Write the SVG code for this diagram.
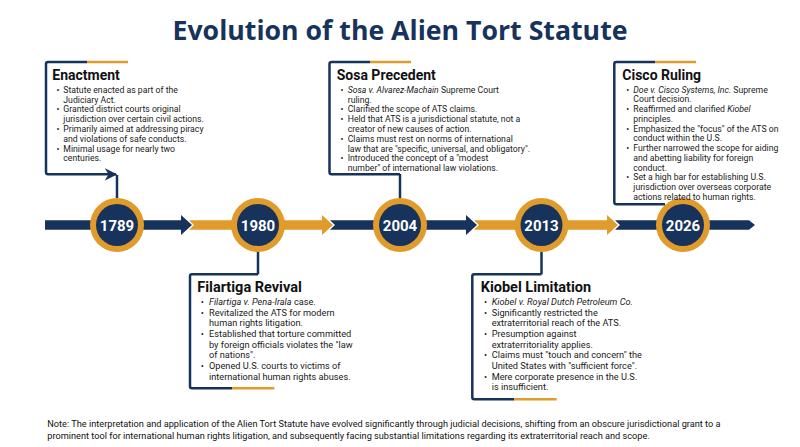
<svg xmlns="http://www.w3.org/2000/svg" width="800" height="447" viewBox="0 0 800 447">
<defs>
<style>
.navy{fill:#17325B}
.orange{fill:#E09B2D}
.ln{fill:none;stroke:#17325B;stroke-width:2.5;stroke-linejoin:round;stroke-linecap:butt}
.lo{fill:none;stroke:#E09B2D;stroke-width:2.5}
.ttl{font-family:Roboto,"Liberation Sans",sans-serif;font-weight:700;font-size:14px;fill:#111}
.ttlb{font-family:Roboto,"Liberation Sans",sans-serif;font-weight:700;font-size:14.5px;fill:#111}
.bt{font-family:Roboto,"Liberation Sans",sans-serif;font-size:8.7px;fill:#1a1a1a}
.bb{font-family:Roboto,"Liberation Sans",sans-serif;font-size:9.2px;fill:#1a1a1a}
.yr{font-family:Roboto,"Liberation Sans",sans-serif;font-weight:700;font-size:15px;fill:#fff;text-anchor:middle}
.note{font-family:Roboto,"Liberation Sans",sans-serif;font-size:9.2px;fill:#111}
.it{font-style:italic}
</style>
<marker id="ah" viewBox="0 0 10 10" refX="9" refY="5" markerWidth="5" markerHeight="5" orient="auto" markerUnits="strokeWidth">
<path d="M0,0 L10,5 L0,10 L3,5 Z" fill="#17325B"/>
</marker>
</defs>
<rect width="800" height="447" fill="#fff"/>
<text x="400" y="40" text-anchor="middle" font-family="'Open Sans',Roboto,sans-serif" font-weight="700" font-size="26.5" fill="#17325B" textLength="455" lengthAdjust="spacingAndGlyphs">Evolution of the Alien Tort Statute</text>

<g id="timeline">
<polygon class="navy" points="45,220.3 181,220.3 181,215 192,225 181,235 181,229.7 45,229.7"/>
<polygon class="orange" points="189,220.3 322,220.3 322,215 333,225 322,235 322,229.7 189,229.7 194,225"/>
<polygon class="navy" points="330,220.3 466,220.3 466,215 477,225 466,235 466,229.7 330,229.7 335,225"/>
<polygon class="orange" points="474,220.3 607,220.3 607,215 618,225 607,235 607,229.7 474,229.7 479,225"/>
<polygon class="navy" points="615,220.3 749,220.3 755,225 749,229.7 615,229.7 620,225"/>
</g>

<g id="connectors">
<path class="ln" d="M117,175 V198"/>
<path class="ln" d="M400,174 V198"/>
<path class="ln" d="M258,252 V274.3"/>
<path class="ln" d="M541.5,252 V274.3"/>
</g>

<g id="y1789"><circle cx="117" cy="225" r="27" class="orange"/><circle cx="117" cy="225" r="21" class="navy"/><text class="yr" x="117" y="230.5">1789</text></g>
<g id="y1980"><circle cx="258" cy="225" r="27" class="orange"/><circle cx="258" cy="225" r="21" class="navy"/><text class="yr" x="258" y="230.5">1980</text></g>
<g id="y2004"><circle cx="400" cy="225" r="27" class="orange"/><circle cx="400" cy="225" r="21" class="navy"/><text class="yr" x="400" y="230.5">2004</text></g>
<g id="y2013"><circle cx="541.5" cy="225" r="27" class="orange"/><circle cx="541.5" cy="225" r="21" class="navy"/><text class="yr" x="541.5" y="230.5">2013</text></g>
<g id="y2026"><circle cx="683" cy="225" r="27" class="orange"/><circle cx="683" cy="225" r="21" class="navy"/><text class="yr" x="683" y="230.5">2026</text></g>

<g id="enactment">
<path class="ln" d="M87,62 H48 Q46,62 46,64 V172 Q46,174.3 48,174.3 H116" marker-end="url(#ah)"/>
<path class="lo" d="M87,62 H128"/>
<text class="ttl" x="52.3" y="80">Enactment</text>
<g class="bt">
<text x="56.5" y="92.7">•</text><text x="63.3" y="92.7">Statute enacted as part of the</text>
<text x="63.3" y="102.5">Judiciary Act.</text>
<text x="56.5" y="112.3">•</text><text x="63.3" y="112.3">Granted district courts original</text>
<text x="63.3" y="122.1">jurisdiction over certain civil actions.</text>
<text x="56.5" y="131.9">•</text><text x="63.3" y="131.9">Primarily aimed at addressing piracy</text>
<text x="63.3" y="141.7">and violations of safe conducts.</text>
<text x="56.5" y="151.5">•</text><text x="63.3" y="151.5">Minimal usage for nearly two</text>
<text x="63.3" y="161.3">centuries.</text>
</g>
</g>

<g id="sosa">
<path class="ln" d="M370,62 H331.5 Q329.5,62 329.5,64 V172 Q329.5,174.3 331.5,174.3 H400"/>
<path class="lo" d="M370,62 H411"/>
<text class="ttl" x="336.7" y="80">Sosa Precedent</text>
<g class="bt">
<text x="340.5" y="92.7">•</text><text x="347.7" y="92.7"><tspan class="it">Sosa v. Alvarez-Machain</tspan> Supreme Court</text>
<text x="347.7" y="102.5">ruling.</text>
<text x="340.5" y="112.3">•</text><text x="347.7" y="112.3">Clarified the scope of ATS claims.</text>
<text x="340.5" y="122.1">•</text><text x="347.7" y="122.1">Held that ATS is a jurisdictional statute, not a</text>
<text x="347.7" y="131.9">creator of new causes of action.</text>
<text x="340.5" y="141.7">•</text><text x="347.7" y="141.7">Claims must rest on norms of international</text>
<text x="347.7" y="151.5">law that are "specific, universal, and obligatory".</text>
<text x="340.5" y="161.3">•</text><text x="347.7" y="161.3">Introduced the concept of a "modest</text>
<text x="347.7" y="171.1">number" of international law violations.</text>
</g>
</g>

<g id="cisco">
<path class="ln" d="M655,62 H616.3 Q614.3,62 614.3,64 V202 Q614.3,204.2 616.3,204.2 H665"/>
<path class="lo" d="M655,62 H696"/>
<text class="ttl" x="622.3" y="80">Cisco Ruling</text>
<g class="bt">
<text x="626.3" y="92.7">•</text><text x="633.3" y="92.7"><tspan class="it">Doe v. Cisco Systems, Inc.</tspan> Supreme</text>
<text x="633.3" y="102.45">Court decision.</text>
<text x="626.3" y="112.2">•</text><text x="633.3" y="112.2">Reaffirmed and clarified <tspan class="it">Kiobel</tspan></text>
<text x="633.3" y="121.95">principles.</text>
<text x="626.3" y="131.7">•</text><text x="633.3" y="131.7">Emphasized the "focus" of the ATS on</text>
<text x="633.3" y="141.45">conduct within the U.S.</text>
<text x="626.3" y="151.2">•</text><text x="633.3" y="151.2">Further narrowed the scope for aiding</text>
<text x="633.3" y="160.95">and abetting liability for foreign</text>
<text x="633.3" y="170.7">conduct.</text>
<text x="626.3" y="180.45">•</text><text x="633.3" y="180.45">Set a high bar for establishing U.S.</text>
<text x="633.3" y="190.2">jurisdiction over overseas corporate</text>
<text x="633.3" y="199.95">actions related to human rights.</text>
</g>
</g>

<g id="filartiga">
<path class="ln" d="M258,274.3 H192 Q190,274.3 190,276.3 V386.3 Q190,388.3 192,388.3 H232"/>
<path class="lo" d="M232,388.3 H274.3"/>
<text class="ttlb" x="197.3" y="291.7">Filartiga Revival</text>
<g class="bb">
<text x="200.7" y="305">•</text><text x="209" y="305"><tspan class="it">Filartiga v. Pena-Irala</tspan> case.</text>
<text x="200.7" y="315.67">•</text><text x="209" y="315.67">Revitalized the ATS for modern</text>
<text x="209" y="326.33">human rights litigation.</text>
<text x="200.7" y="337">•</text><text x="209" y="337">Established that torture committed</text>
<text x="209" y="347.67">by foreign officials violates the "law</text>
<text x="209" y="358.33">of nations".</text>
<text x="200.7" y="369">•</text><text x="209" y="369">Opened U.S. courts to victims of</text>
<text x="209" y="379.67">international human rights abuses.</text>
</g>
</g>

<g id="kiobel">
<path class="ln" d="M541.5,274.3 H474.3 Q472.3,274.3 472.3,276.3 V397.3 Q472.3,399.3 474.3,399.3 H514.3"/>
<path class="lo" d="M514.3,399.3 H556.7"/>
<text class="ttlb" x="480.7" y="291.7">Kiobel Limitation</text>
<g class="bb">
<text x="484" y="305">•</text><text x="491.7" y="305" class="it">Kiobel v. Royal Dutch Petroleum Co.</text>
<text x="484" y="315.67">•</text><text x="491.7" y="315.67">Significantly restricted the</text>
<text x="491.7" y="326.33">extraterritorial reach of the ATS.</text>
<text x="484" y="337">•</text><text x="491.7" y="337">Presumption against</text>
<text x="491.7" y="347.67">extraterritoriality applies.</text>
<text x="484" y="358.33">•</text><text x="491.7" y="358.33">Claims must "touch and concern" the</text>
<text x="491.7" y="369">United States with "sufficient force".</text>
<text x="484" y="379.67">•</text><text x="491.7" y="379.67">Mere corporate presence in the U.S.</text>
<text x="491.7" y="390.33">is insufficient.</text>
</g>
</g>

<g id="note">
<text class="note" x="47.3" y="427">Note: The interpretation and application of the Alien Tort Statute have evolved significantly through judicial decisions, shifting from an obscure jurisdictional grant to a</text>
<text class="note" x="47.3" y="438.5">prominent tool for international human rights litigation, and subsequently facing substantial limitations regarding its extraterritorial reach and scope.</text>
</g>
</svg>
